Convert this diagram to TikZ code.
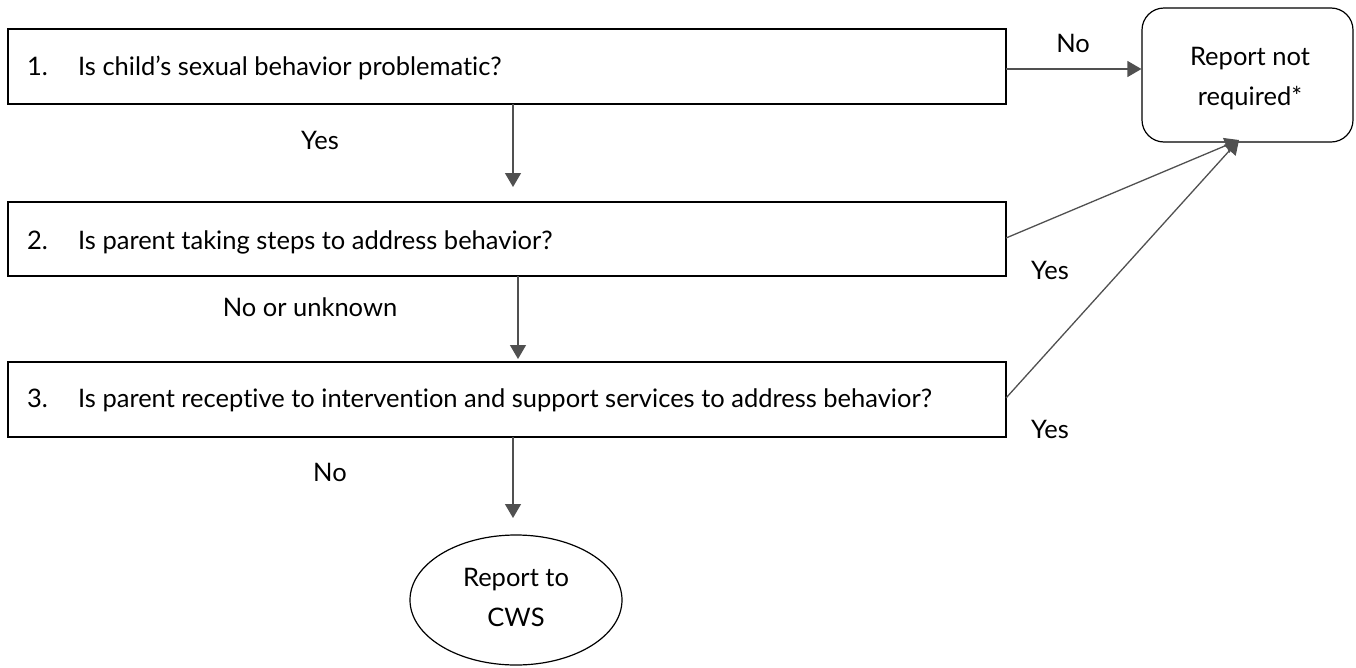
\documentclass[tikz,border=0pt]{standalone}
\usepackage{fontspec}
\setmainfont{Lato}[Ligatures=NoCommon]
\usetikzlibrary{arrows.meta,shapes.geometric}
\definecolor{linegray}{HTML}{505050}
\begin{document}
\begin{tikzpicture}[x=1pt,y=-1pt,
  every node/.style={font=\fontsize{25.5}{40}\selectfont},
  qbox/.style={draw=black,line width=1.2pt},
  flow/.style={draw=linegray,line width=1.3pt,-{Triangle[length=14pt,width=16pt]}},
  lbl/.style={inner sep=0pt}]
\useasboundingbox (0,0) rectangle (1356,667);
% question boxes
\draw[qbox] (8,29) rectangle (1006,104);
\draw[qbox] (8,202) rectangle (1006,276);
\draw[qbox] (8,362) rectangle (1006,437);
\node[anchor=west,lbl] (q1) at (27,68) {\makebox[51pt][l]{1.}Is child’s sexual behavior problematic?};
\node[anchor=west,lbl] (q2) at (27,242) {\makebox[51pt][l]{2.}Is parent taking steps to address behavior?};
\node[anchor=west,lbl] (q3) at (27,400) {\makebox[51pt][l]{3.}Is parent receptive to intervention and support services to address behavior?};
% outcomes
\node[draw=black,line width=1.2pt,rounded corners=22pt,minimum width=211pt,minimum height=134pt] (nr) at (1247.5,75) {};
\node[align=center,lbl] (nrtext) at (1250,79) {Report not\\required*};
\node[draw=black,line width=1.2pt,ellipse,minimum width=212pt,minimum height=130pt,inner sep=0pt] (cws) at (516,600) {};
\node[align=center,lbl] (cwstext) at (516,597) {Report to\\CWS};
% connectors
\coordinate (a1s) at (513,104); \coordinate (a1e) at (513,187);
\coordinate (a2s) at (518,276); \coordinate (a2e) at (518,359);
\coordinate (a3s) at (513,437); \coordinate (a3e) at (513,518);
\draw[flow] (a1s) -- (a1e);
\draw[flow] (a2s) -- (a2e);
\draw[flow] (a3s) -- (a3e);
\coordinate (n1s) at (1006,69);
\draw[flow] (n1s) -- (nr.west |- n1s);
\coordinate (y1s) at (1006,238); \coordinate (y2s) at (1006,398);
\coordinate (ytip) at (1239,140);
\draw[flow] (y1s) -- (ytip);
\draw[flow] (y2s) -- (ytip);
% labels
\node[lbl] (lyes1) at (320,140) {Yes};
\node[lbl] (lnou) at (310,307) {No or unknown};
\node[lbl] (lno3) at (330,472) {No};
\node[lbl] (lno1) at (1073,43) {No};
\node[lbl] (lyes2) at (1050,270) {Yes};
\node[lbl] (lyes3) at (1050,429) {Yes};
\end{tikzpicture}
\end{document}
